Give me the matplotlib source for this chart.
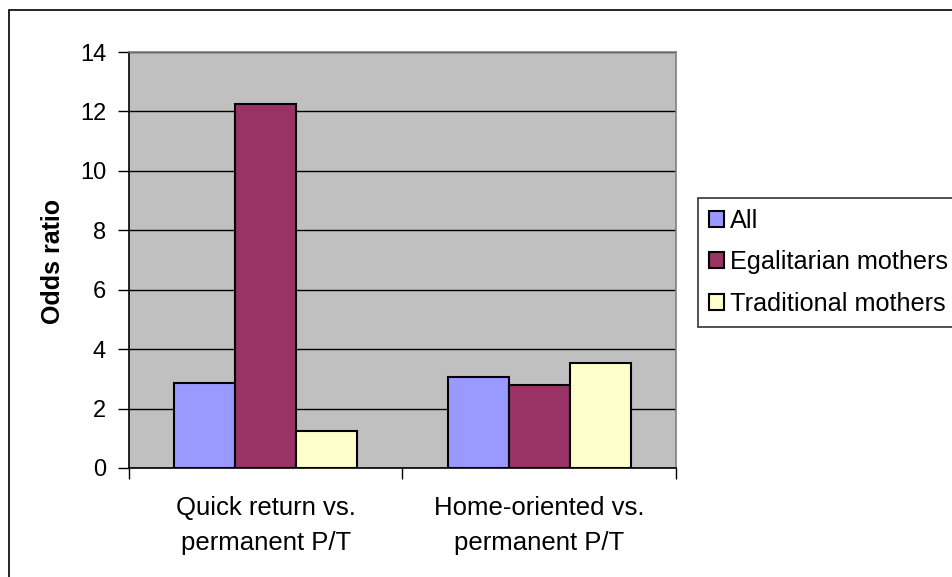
import matplotlib
matplotlib.use("Agg")
import matplotlib.pyplot as plt
import numpy as np
from matplotlib.patches import Rectangle

categories = ["Quick return vs.\npermanent P/T", "Home-oriented vs.\npermanent P/T"]
series_names = ["All", "Egalitarian mothers", "Traditional mothers"]
all_vals = [2.85, 3.05]
egal_vals = [12.25, 2.78]
trad_vals = [1.24, 3.52]
colors = ["#9999FF", "#993366", "#FFFFCC"]
yticks = [0, 2, 4, 6, 8, 10, 12, 14]

plt.rcParams['font.family'] = ['Liberation Sans', 'DejaVu Sans']

W, H = 953, 577
fig = plt.figure(figsize=(W / 100, H / 100), dpi=100)
fig.patch.set_facecolor("white")

# outer chart border
fig.add_artist(Rectangle((9 / W, -0.1), 1.2, 1 - 10 / H + 0.1, transform=fig.transFigure,
                         fill=False, edgecolor="black", linewidth=1.2))

L, R, T, B = 129, 676, 52, 468
ax = fig.add_axes([L / W, 1 - B / H, (R - L) / W, (B - T) / H])
ax.set_facecolor("#C0C0C0")

x = np.arange(len(categories))
bw = 0.223
series = [all_vals, egal_vals, trad_vals]
handles = []
for i, (vals, c, name) in enumerate(zip(series, colors, series_names)):
    h = ax.bar(x + (i - 1) * bw, vals, width=bw, color=c, edgecolor="black",
               linewidth=1.5, label=name, zorder=3)
    handles.append(h)

ax.set_xlim(-0.5, 1.5)
ax.set_ylim(0, 14)
ax.set_yticks(yticks)
ax.yaxis.grid(True, color="black", linewidth=1.0, zorder=1)
ax.set_axisbelow(True)
ax.tick_params(axis="y", direction="out", length=8, width=1, labelsize=17, pad=8.5)

ax.set_xticks(x)
ax.set_xticklabels(categories, fontsize=18.5, linespacing=1.6)
ax.tick_params(axis="x", which="major", length=0, pad=20)
ax.set_xticks([-0.5, 0.5, 1.5], minor=True)
ax.tick_params(axis="x", which="minor", direction="out", length=8, width=1)

for s in ["left", "bottom"]:
    ax.spines[s].set_color("black")
    ax.spines[s].set_linewidth(1.2)
for s in ["top", "right"]:
    ax.spines[s].set_color("#808080")
    ax.spines[s].set_linewidth(1.2)

fig.text(53 / W, 1 - 261 / H, "Odds ratio", rotation=90, fontsize=18, fontweight="bold",
         ha="center", va="center")

leg = fig.legend(handles=handles, labels=series_names, loc="upper left",
                 bbox_to_anchor=(698 / W, 1 - 198 / H), bbox_transform=fig.transFigure,
                 borderaxespad=0, fontsize=18.2, frameon=True, fancybox=False,
                 handlelength=0.6, handleheight=0.6, handletextpad=0.25,
                 labelspacing=0.7, borderpad=0.42)
leg.get_frame().set_edgecolor("black")
leg.get_frame().set_linewidth(1.2)

fig.savefig("out.png", dpi=100)
